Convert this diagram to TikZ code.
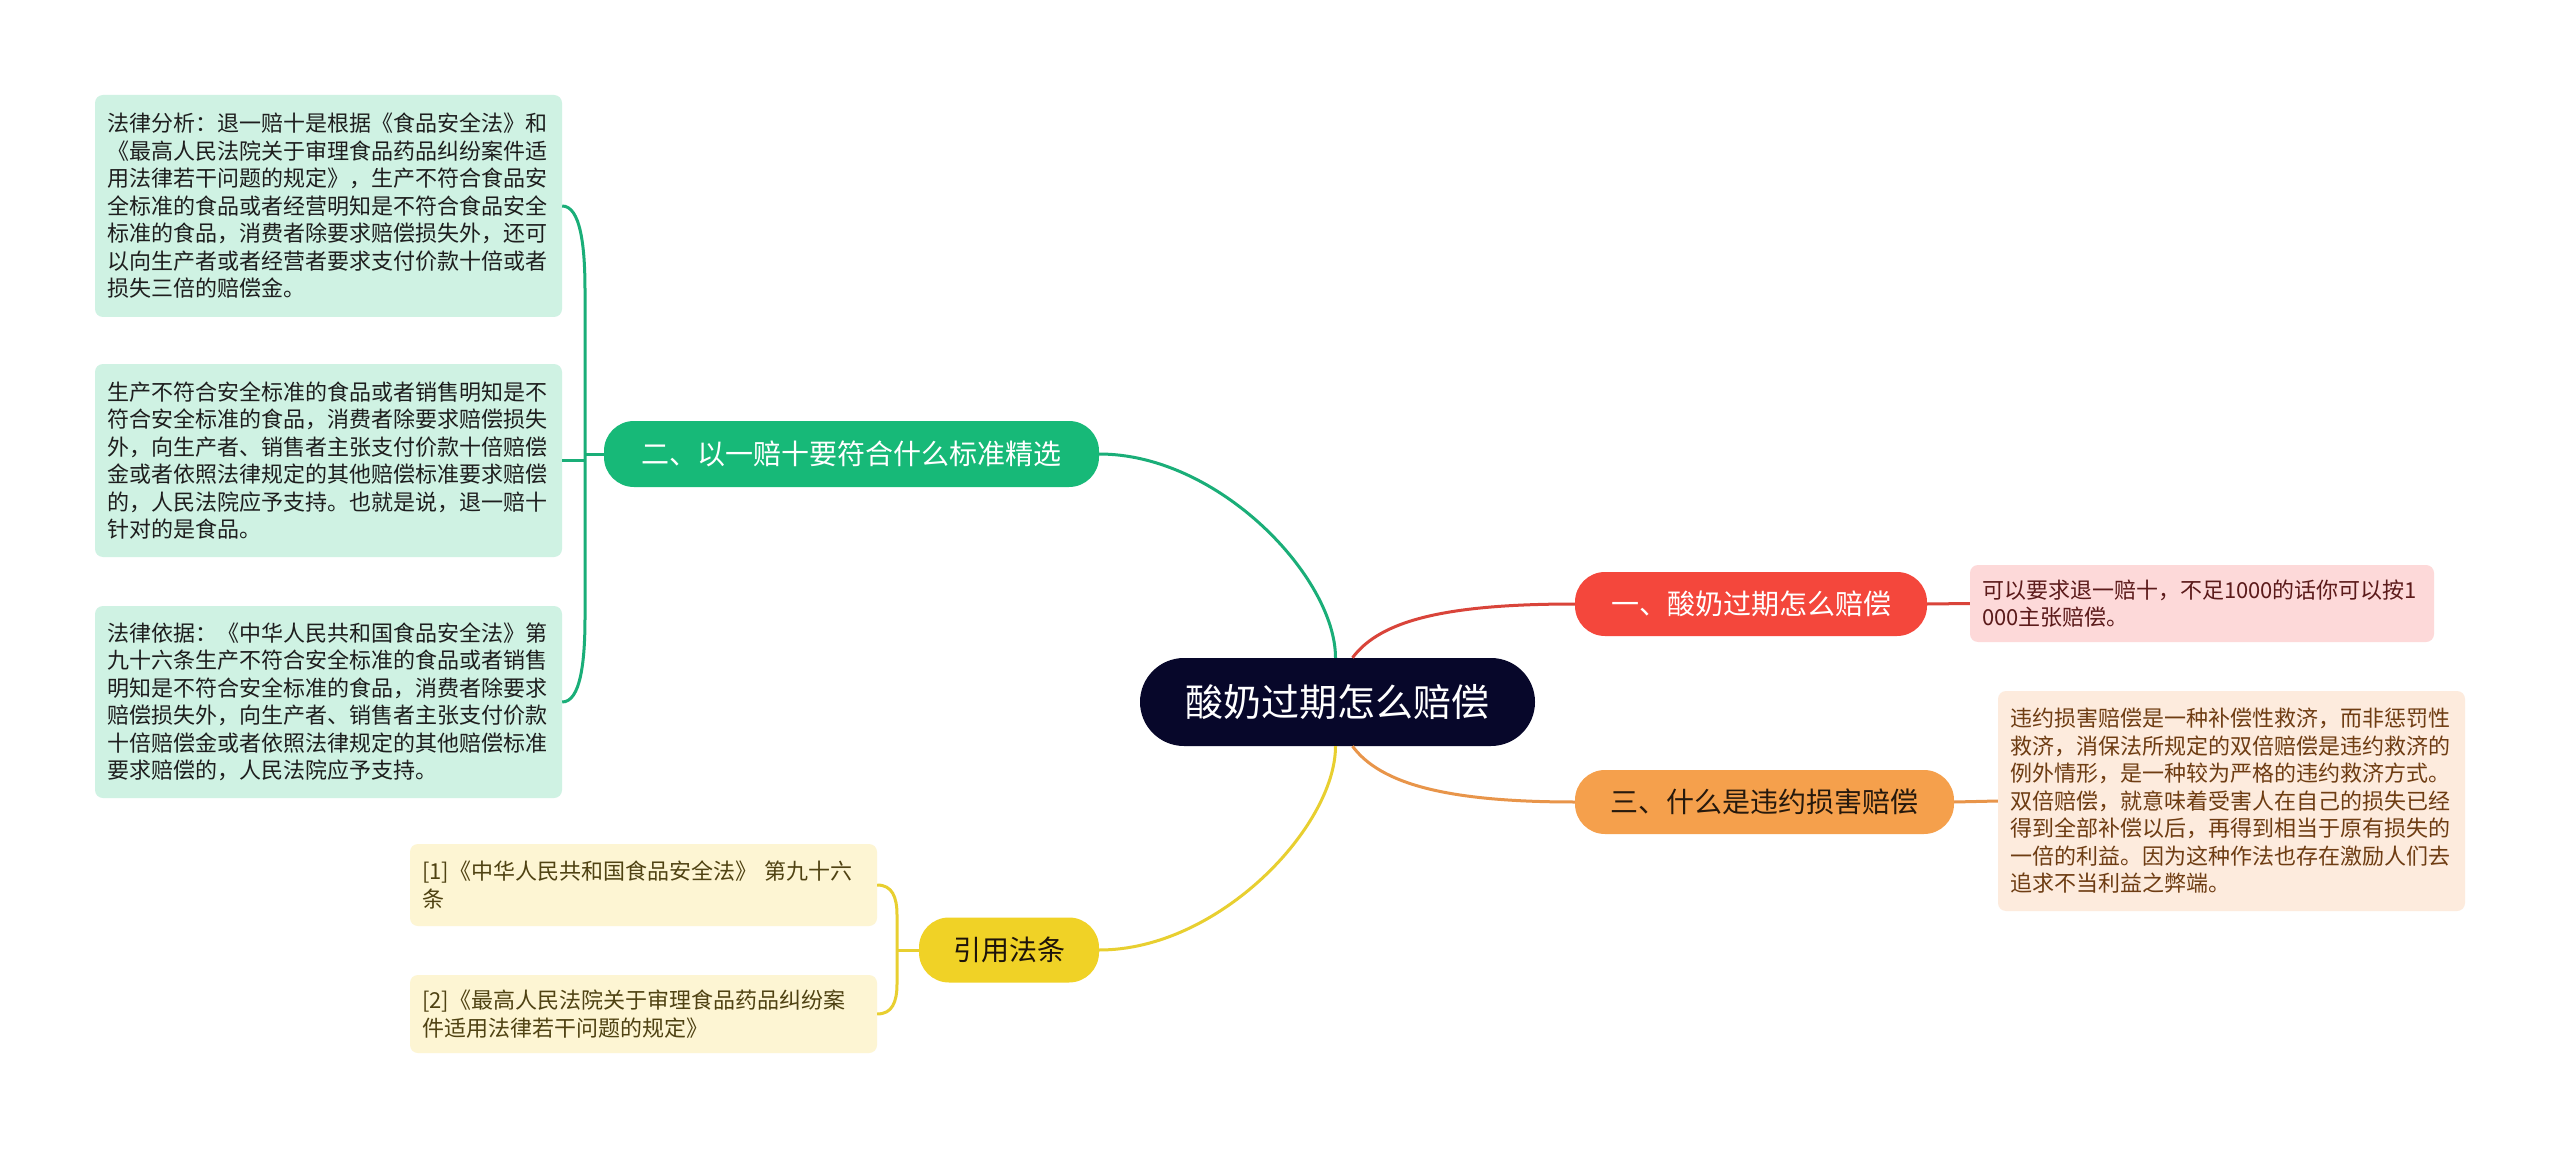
\documentclass[tikz,border=0pt]{standalone}
\usepackage{fontspec}
\setmainfont{Noto Sans CJK SC}
\usetikzlibrary{calc}
\definecolor{cdark}{HTML}{07072A}
\definecolor{cgreen}{HTML}{17B978}
\definecolor{cgreenline}{HTML}{1AAE78}
\definecolor{cgreenleaf}{HTML}{CFF2E3}
\definecolor{cred}{HTML}{F4473C}
\definecolor{credline}{HTML}{D9443A}
\definecolor{credleaf}{HTML}{FDD9D9}
\definecolor{credtext}{HTML}{5B1A1A}
\definecolor{corange}{HTML}{F5A04C}
\definecolor{corangeline}{HTML}{E8954A}
\definecolor{corangeleaf}{HTML}{FDEBDD}
\definecolor{corangetext}{HTML}{6E3C12}
\definecolor{cyellow}{HTML}{F0D226}
\definecolor{cyellowline}{HTML}{E8CF30}
\definecolor{cyellowleaf}{HTML}{FDF5D3}
\definecolor{cyellowtext}{HTML}{4F4212}
\definecolor{cleaftext}{HTML}{1E1E1E}
\begin{document}
\begin{tikzpicture}[x=1pt,y=-1pt,
  leafbox/.style={rounded corners=8pt, inner xsep=12pt, inner ysep=0pt, align=left,
    font=\fontsize{22}{27.5}\selectfont},
  branchbox/.style={rounded corners=30pt, inner sep=0pt, minimum height=64pt,
    font=\fontsize{28}{32}\selectfont},
  conn/.style={line width=3pt},
]
\useasboundingbox (0,0) rectangle (2560,1150);
\fill[white] (0,0) rectangle (2560,1150);

% central
\node[fill=cdark, text=white, rounded corners=44pt, minimum width=395pt, minimum height=88pt,
  inner sep=0pt, font=\fontsize{38}{42}\selectfont] (c) at (1337.5,702) {酸奶过期怎么赔偿};

% branches
\node[branchbox, fill=cgreen, text=white, minimum width=495pt, minimum height=66pt] (g2) at (851.5,454) {二、以一赔十要符合什么标准精选};
\node[branchbox, fill=cred, text=white, minimum width=352pt] (r1) at (1751,604) {一、酸奶过期怎么赔偿};
\node[branchbox, fill=corange, text=black!80!brown, minimum width=379pt] (o3) at (1764.5,802) {三、什么是违约损害赔偿};
\node[branchbox, fill=cyellow, text=black!85!brown, minimum width=180pt, minimum height=65pt] (yb) at (1009,950) {引用法条};

% green leaves
\node[leafbox, fill=cgreenleaf, text=cleaftext, text width=443pt, minimum height=222pt] (gA) at (328.5,206) {法律分析：退一赔十是根据《食品安全法》和\\《最高人民法院关于审理食品药品纠纷案件适\\用法律若干问题的规定》，生产不符合食品安\\全标准的食品或者经营明知是不符合食品安全\\标准的食品，消费者除要求赔偿损失外，还可\\以向生产者或者经营者要求支付价款十倍或者\\损失三倍的赔偿金。};
\node[leafbox, fill=cgreenleaf, text=cleaftext, text width=443pt, minimum height=193pt] (gB) at (328.5,460.5) {生产不符合安全标准的食品或者销售明知是不\\符合安全标准的食品，消费者除要求赔偿损失\\外，向生产者、销售者主张支付价款十倍赔偿\\金或者依照法律规定的其他赔偿标准要求赔偿\\的，人民法院应予支持。也就是说，退一赔十\\针对的是食品。};
\node[leafbox, fill=cgreenleaf, text=cleaftext, text width=443pt, minimum height=192pt] (gC) at (328.5,702) {法律依据：《中华人民共和国食品安全法》第\\九十六条生产不符合安全标准的食品或者销售\\明知是不符合安全标准的食品，消费者除要求\\赔偿损失外，向生产者、销售者主张支付价款\\十倍赔偿金或者依照法律规定的其他赔偿标准\\要求赔偿的，人民法院应予支持。};

% yellow leaves
\node[leafbox, fill=cyellowleaf, text=cyellowtext, text width=443pt, minimum height=82pt] (y1) at (643.5,885) {[1]《中华人民共和国食品安全法》 第九十六\\条};
\node[leafbox, fill=cyellowleaf, text=cyellowtext, text width=443pt, minimum height=78pt] (y2) at (643.5,1014) {[2]《最高人民法院关于审理食品药品纠纷案\\件适用法律若干问题的规定》};

% red leaf
\node[leafbox, fill=credleaf, text=credtext, text width=440pt, minimum height=77pt] (rl) at (2202,603.5) {可以要求退一赔十，不足1000的话你可以按1\\000主张赔偿。};

% orange leaf
\node[leafbox, fill=corangeleaf, text=corangetext, text width=443pt, minimum height=220pt] (ol) at (2231.5,801) {违约损害赔偿是一种补偿性救济，而非惩罚性\\救济，消保法所规定的双倍赔偿是违约救济的\\例外情形，是一种较为严格的违约救济方式。\\双倍赔偿，就意味着受害人在自己的损失已经\\得到全部补偿以后，再得到相当于原有损失的\\一倍的利益。因为这种作法也存在激励人们去\\追求不当利益之弊端。};

% main connectors
\draw[conn, cgreenline] ([xshift=-2pt]c.north) .. controls +(0,-80) and +(120,0) .. (g2.east);
\draw[conn, credline] ([xshift=15pt]c.north) .. controls +(28,-38) and +(-127,0) .. (r1.west);
\draw[conn, corangeline] ([xshift=15pt]c.south) .. controls +(28,38) and +(-127,0) .. (o3.west);
\draw[conn, cyellowline] ([xshift=-2pt]c.south) .. controls +(0,80) and +(120,0) .. (yb.east);

% leaf connectors
\draw[conn, credline] (r1.east) -- (rl.west);
\draw[conn, corangeline] (o3.east) -- (ol.west);

% green bracket
\coordinate (gt1) at (585,290);
\coordinate (gt2) at (585,618);
\coordinate (gtm) at (585,454);
\coordinate (gtb) at (585,460.5);
\draw[conn, cgreenline] (gA.east) .. controls +(18,0) and +(0,-45) .. (gt1) -- (gt2) .. controls +(0,45) and +(18,0) .. (gC.east);
\draw[conn, cgreenline] (g2.west) -- (gtm);
\draw[conn, cgreenline] (gB.east) -- (gtb);

% yellow bracket
\coordinate (yt1) at (897,915);
\coordinate (yt2) at (897,984);
\coordinate (ytm) at (897,950);
\draw[conn, cyellowline] (y1.east) .. controls +(15,0) and +(0,-18) .. (yt1) -- (yt2) .. controls +(0,18) and +(15,0) .. (y2.east);
\draw[conn, cyellowline] (yb.west) -- (ytm);
\end{tikzpicture}
\end{document}
